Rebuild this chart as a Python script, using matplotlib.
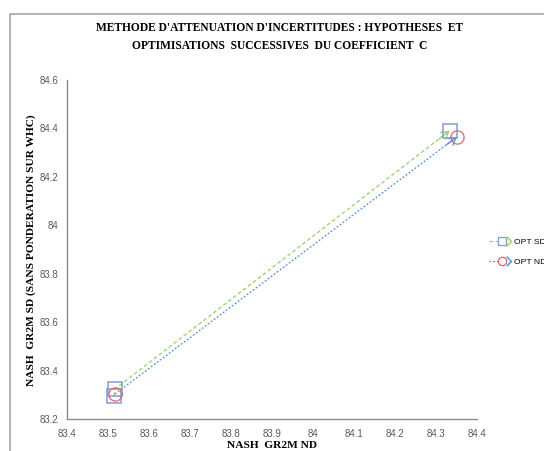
import matplotlib
matplotlib.use("Agg")
import matplotlib.pyplot as plt
from matplotlib.lines import Line2D
from matplotlib.legend_handler import HandlerBase
from matplotlib.path import Path
from matplotlib.patches import Rectangle

# ---- data ----
title_lines = ["METHODE D'ATTENUATION D'INCERTITUDES : HYPOTHESES  ET",
               "OPTIMISATIONS  SUCCESSIVES  DU COEFFICIENT  C"]
xlabel = "NASH  GR2M ND"
ylabel = "NASH  GR2M SD (SANS PONDERATION SUR WHC)"
series_names = ["OPT SD", "OPT ND"]
sd_x = [83.515, 83.517, 84.333]
sd_y = [83.295, 83.324, 84.390]
nd_x = [83.517, 84.351]
nd_y = [83.303, 84.365]
xticks = [83.4, 83.5, 83.6, 83.7, 83.8, 83.9, 84.0, 84.1, 84.2, 84.3, 84.4]
xtick_labels = ["83.4", "83.5", "83.6", "83.7", "83.8", "83.9", "84", "84.1", "84.2", "84.3", "84.4"]
yticks = [83.2, 83.4, 83.6, 83.8, 84.0, 84.2, 84.4, 84.6]
ytick_labels = ["83.2", "83.4", "83.6", "83.8", "84", "84.2", "84.4", "84.6"]

green = "#9BCF6A"
blue = "#4A90D9"
sq_col = "#7E9CCF"
circ_col = "#D9666A"
gray = "#8C8C8C"
tick_col = "#595959"

W, H = 544, 451
fig = plt.figure(figsize=(W / 100, H / 100), dpi=100)
ax = fig.add_axes([67 / W, 1 - 419 / H, (477 - 67) / W, (419 - 80) / H])

# outer chart border
fig.patches.append(Rectangle((10 / W, -0.1), 1.2, 1 - 14 / H + 0.1, transform=fig.transFigure,
                             fill=False, edgecolor="#A6A6A6", linewidth=1.2))


def arrow_end(ax, xs, ys, color):
    # open arrowhead at the last point, pointing along the last segment
    x0, y0, x1, y1 = xs[-2], ys[-2], xs[-1], ys[-1]
    f = 0.03
    ax.annotate("", xy=(x1, y1), xytext=(x1 - f * (x1 - x0), y1 - f * (y1 - y0)),
                arrowprops=dict(arrowstyle="->,head_length=0.5,head_width=0.3", color=color,
                                lw=0.9, shrinkA=0, shrinkB=0))


ax.plot(sd_x, sd_y, color=green, lw=0.9, ls=(0, (3, 2)), zorder=2)
arrow_end(ax, sd_x, sd_y, green)
ax.plot(nd_x, nd_y, color=blue, lw=0.9, ls=(0, (1.5, 1.5)), zorder=2)
arrow_end(ax, nd_x, nd_y, blue)
ax.plot(sd_x, sd_y, ls="none", marker="s", ms=10, mfc="none", mec=sq_col, mew=1.2, zorder=3, alpha=0.9)
ax.plot(nd_x, nd_y, ls="none", marker="o", ms=9.5, mfc="none", mec=circ_col, mew=1.0, zorder=3, alpha=0.9)

ax.set_xlim(83.4, 84.4)
ax.set_ylim(83.2, 84.6)
ax.set_xticks(xticks)
ax.set_xticklabels(xtick_labels)
ax.set_yticks(yticks)
ax.set_yticklabels(ytick_labels)
ax.tick_params(length=0, labelsize=7, colors=tick_col)
ax.tick_params(axis="y", pad=6)
ax.tick_params(axis="x", pad=7)
for lab in ax.get_xticklabels() + ax.get_yticklabels():
    lab.set_family("Liberation Sans")
for s in ["top", "right"]:
    ax.spines[s].set_visible(False)
for s in ["left", "bottom"]:
    ax.spines[s].set_color(gray)
    ax.spines[s].set_linewidth(1.0)

serif = "Liberation Serif"
fig.text(280 / W, 1 - 37 / H, "\n".join(title_lines), ha="center", va="center",
         family=serif, weight="bold", fontsize=8.3, linespacing=1.6)
fig.text(272 / W, 1 - 446 / H, xlabel, ha="center", va="center", family=serif,
         weight="bold", fontsize=8.2)
fig.text(31 / W, 1 - 250 / H, ylabel, ha="center", va="center", rotation=90,
         family=serif, weight="bold", fontsize=8.2)

# legend
open_arrow = Path([(-1, 1), (0, 0), (-1, -1)], [Path.MOVETO, Path.LINETO, Path.LINETO])


class ArrowHandler(HandlerBase):
    def __init__(self, color, ls, marker, mec, **kw):
        super().__init__(**kw)
        self.color, self.ls, self.marker, self.mec = color, ls, marker, mec

    def create_artists(self, legend, orig_handle, xdescent, ydescent, width, height, fontsize, trans):
        y = height / 2 - ydescent
        line = Line2D([-xdescent, width - xdescent - 2], [y, y], color=self.color, ls=self.ls,
                      lw=0.9, transform=trans)
        mk = Line2D([0.6 * width - xdescent], [y], marker=self.marker, ms=6, mfc="white",
                    mec=self.mec, mew=0.9, ls="none", transform=trans)
        arr = Line2D([width - xdescent], [y], marker=open_arrow, ms=7, mfc="none",
                     mec=self.color, mew=1.0, ls="none", transform=trans)
        return [line, mk, arr]


h1 = Line2D([], [], color=green)
h2 = Line2D([], [], color=blue)
leg = fig.legend([h1, h2], series_names, loc="upper left",
                 bbox_to_anchor=(489 / W, 1 - 238 / H), frameon=False,
                 prop={"family": "Liberation Sans", "size": 6.1},
                 handlelength=2.6, handletextpad=0.3, labelspacing=1.4, borderpad=0, borderaxespad=0,
                 handler_map={h1: ArrowHandler(green, (0, (3, 2)), "s", sq_col),
                              h2: ArrowHandler(blue, (0, (1.5, 1.5)), "o", circ_col)})

fig.savefig("out.png", dpi=100)
